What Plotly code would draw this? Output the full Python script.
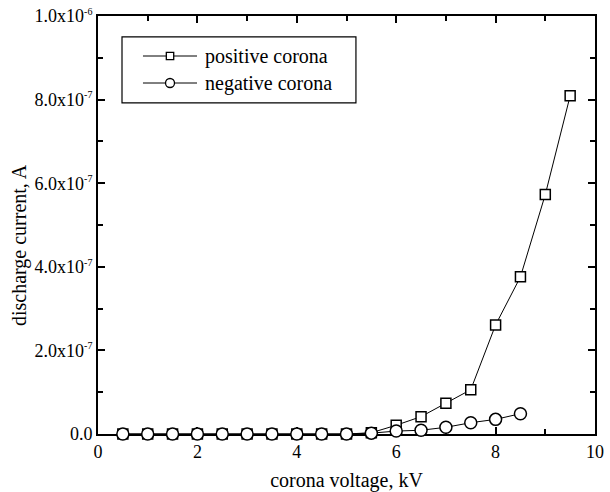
import plotly.graph_objects as go

voltage_pos = [0.5, 1.0, 1.5, 2.0, 2.5, 3.0, 3.5, 4.0, 4.5, 5.0, 5.5, 6.0, 6.5, 7.0, 7.5, 8.0, 8.5, 9.0, 9.5]
current_pos = [0, 0, 0, 0, 0, 0, 0, 0, 0, 0, 0.03e-7, 0.21e-7, 0.415e-7, 0.735e-7, 1.06e-7, 2.61e-7, 3.76e-7, 5.73e-7, 8.09e-7]
voltage_neg = [0.5, 1.0, 1.5, 2.0, 2.5, 3.0, 3.5, 4.0, 4.5, 5.0, 5.5, 6.0, 6.5, 7.0, 7.5, 8.0, 8.5]
current_neg = [0, 0, 0, 0, 0, 0, 0, 0, 0, 0, 0.02e-7, 0.07e-7, 0.09e-7, 0.16e-7, 0.27e-7, 0.35e-7, 0.486e-7]
series_names = ["positive corona", "negative corona"]

SUP = "<sup><span style='font-size:10px'>{}</span></sup>"
y_tickvals = [0, 2e-7, 4e-7, 6e-7, 8e-7, 1e-6]
y_ticktext = ["0.0"] + ["{}x10".format(m) + SUP.format(e) for m, e in
                        [("2.0", "-7"), ("4.0", "-7"), ("6.0", "-7"), ("8.0", "-7"), ("1.0", "-6")]]
x_tickvals = [0, 2, 4, 6, 8, 10]

FONT = "Liberation Serif, Times New Roman, serif"

fig = go.Figure()
fig.add_trace(go.Scatter(
    x=voltage_pos, y=current_pos, mode="lines+markers", name=series_names[0],
    line=dict(color="black", width=1), showlegend=False, cliponaxis=False,
    marker=dict(symbol="square", size=10, color="white", line=dict(color="black", width=1.5)),
))
fig.add_trace(go.Scatter(
    x=voltage_neg, y=current_neg, mode="lines+markers", name=series_names[1],
    line=dict(color="black", width=1), showlegend=False, cliponaxis=False,
    marker=dict(symbol="circle", size=12, color="white", line=dict(color="black", width=1.5)),
))

axis_common = dict(
    showline=True, linecolor="black", linewidth=2, mirror="allticks",
    ticks="inside", ticklen=7, tickwidth=1.5, tickcolor="black",
    showgrid=False, zeroline=False, automargin=False, layer="below traces",
    tickfont=dict(family=FONT, size=18, color="black"),
)

fig.update_xaxes(
    range=[0, 10], tickvals=x_tickvals,
    minor=dict(dtick=1, ticks="inside", ticklen=5, tickwidth=1.5, tickcolor="black", showgrid=False),
    title=dict(text="corona voltage, kV", font=dict(family=FONT, size=20, color="black"), standoff=14),
    **axis_common,
)
fig.update_yaxes(
    range=[0, 1e-6], tickvals=y_tickvals, ticktext=y_ticktext,
    minor=dict(dtick=1e-7, ticks="inside", ticklen=5, tickwidth=1.5, tickcolor="black", showgrid=False),
    **axis_common,
)

# y-axis title as annotation for exact placement
fig.add_annotation(
    text="discharge current, A", xref="paper", yref="paper", x=-0.159, y=0.452,
    xanchor="center", yanchor="middle", textangle=-90, showarrow=False,
    font=dict(family=FONT, size=20, color="black"),
)

# hand-built legend box (paper coordinates)
leg_x0, leg_x1, leg_y0, leg_y1 = 0.0483, 0.519, 0.792, 0.950
row_y = [0.9043, 0.8397]
line_x0, line_x1, mark_x, text_x = 0.0905, 0.1992, 0.1449, 0.2113
fig.add_shape(type="rect", xref="paper", yref="paper", x0=leg_x0, x1=leg_x1, y0=leg_y0, y1=leg_y1,
              line=dict(color="black", width=1.2), fillcolor="white", layer="above")
for i, name in enumerate(series_names):
    fig.add_shape(type="line", xref="paper", yref="paper", x0=line_x0, x1=line_x1, y0=row_y[i], y1=row_y[i],
                  line=dict(color="black", width=1), layer="above")
    half = 3.7 if i == 0 else 4.5
    fig.add_shape(type="rect" if i == 0 else "circle", xref="paper", yref="paper",
                  xsizemode="pixel", ysizemode="pixel", xanchor=mark_x, yanchor=row_y[i],
                  x0=-half, x1=half, y0=-half, y1=half,
                  line=dict(color="black", width=1.3), fillcolor="white", layer="above")
    fig.add_annotation(text=name, xref="paper", yref="paper", x=text_x, y=row_y[i],
                       xanchor="left", yanchor="middle", showarrow=False,
                       font=dict(family=FONT, size=20, color="black"))

fig.update_layout(
    width=610, height=492,
    margin=dict(l=98, r=15, t=16, b=58),
    plot_bgcolor="white", paper_bgcolor="white",
    font=dict(family=FONT, color="black"),
    showlegend=False,
)

fig.write_html("out.html")
